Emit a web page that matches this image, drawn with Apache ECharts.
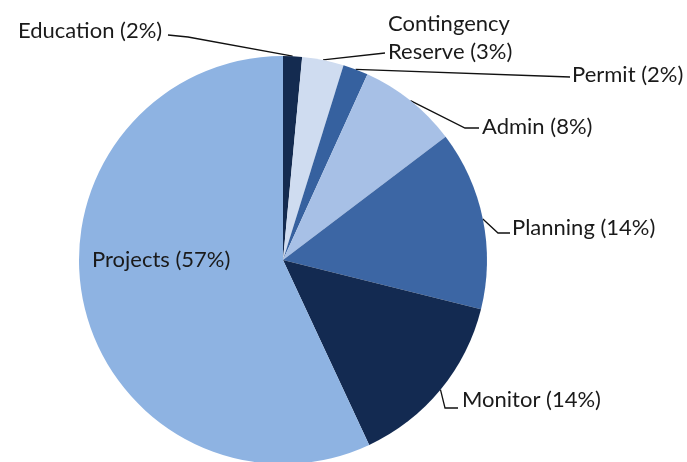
<!DOCTYPE html>
<html lang="en">
<head>
    <meta charset="UTF-8">
    <title>Budget pie</title>
    <script src="https://cdn.jsdelivr.net/npm/echarts@6/dist/echarts.min.js"></script>
    <style>
        html, body { margin: 0; padding: 0; background: #fff; }
    </style>
</head>
<body>
    <div id="chart" style="width:687px;height:462px;"></div>
    <script>
        // slice data, clockwise from 12 o'clock
        var names = ['Education', 'Contingency\nReserve', 'Permit', 'Admin', 'Planning', 'Monitor', 'Projects'];
        var values = [1.5, 3.3, 2.0, 7.9, 14.2, 14.2, 57.0];
        var pctLabels = ['2%', '3%', '2%', '8%', '14%', '14%', '57%'];
        var colors = ['#142b50', '#cfdcf0', '#36619f', '#a7c0e6', '#3c66a4', '#132a51', '#8eb3e2'];

        // where each label sits and how its leader bends
        var spots = [
            { x: 18, y: 31, line: [[188, 37], [168, 35]] },
            { x: 388, y: 38, line: [[385, 53]] },
            { x: 572, y: 75, line: [[570, 77]] },
            { x: 482, y: 127, line: [[465, 128], [479, 128]] },
            { x: 512, y: 228, line: [[498, 233], [510, 233]] },
            { x: 462, y: 400, line: [[445, 408], [458, 408]] },
            { x: 92, y: 260, line: null }
        ];

        var pieData = [];
        for (var i = 0; i < names.length; i++) {
            pieData.push({
                name: names[i],
                value: values[i],
                itemStyle: { color: colors[i] },
                label: { position: i === 6 ? 'inside' : 'outside' }
            });
        }

        var chart = echarts.init(document.getElementById('chart'));

        var option = {
            backgroundColor: '#fff',
            animation: false,
            series: [{
                type: 'pie',
                center: [283, 260],
                radius: 204,
                startAngle: 90,
                clockwise: true,
                avoidLabelOverlap: false,
                data: pieData,
                itemStyle: { borderWidth: 0 },
                label: {
                    fontFamily: 'Lato',
                    fontSize: 22,
                    color: '#1a1a1a',
                    lineHeight: 28,
                    formatter: function (p) {
                        return p.name + ' (' + pctLabels[p.dataIndex] + ')';
                    }
                },
                labelLine: {
                    show: true,
                    smooth: false,
                    lineStyle: { color: '#111', width: 1.3 }
                },
                labelLayout: function (p) {
                    var s = spots[p.dataIndex];
                    var out = { x: s.x, y: s.y, align: 'left', verticalAlign: 'middle' };
                    if (s.line && p.labelLinePoints) {
                        out.labelLinePoints = [p.labelLinePoints[0]].concat(s.line);
                    }
                    return out;
                }
            }]
        };

        chart.setOption(option);
    </script>
</body>
</html>
